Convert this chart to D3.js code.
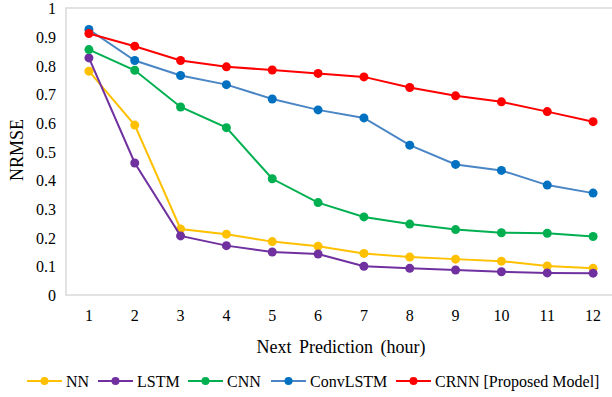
<!DOCTYPE html>
<html>
<head>
<meta charset="utf-8">
<script src="https://cdn.jsdelivr.net/npm/d3@7"></script>
<style>
  body { margin: 0; background: #fff; }
  svg text { font-family: "Liberation Serif", "Times New Roman", serif; fill: #000; }
</style>
</head>
<body>
<div id="chart"></div>
<script>
// hours ahead
const hours = [1, 2, 3, 4, 5, 6, 7, 8, 9, 10, 11, 12];
const yTicks = [0, 0.1, 0.2, 0.3, 0.4, 0.5, 0.6, 0.7, 0.8, 0.9, 1];

// NRMSE per model
const nn       = [0.78, 0.592, 0.23, 0.212, 0.186, 0.17, 0.145, 0.132, 0.125, 0.118, 0.101, 0.093];
const lstm     = [0.826, 0.46, 0.206, 0.172, 0.15, 0.143, 0.1, 0.093, 0.087, 0.081, 0.077, 0.076];
const cnn      = [0.855, 0.783, 0.655, 0.583, 0.405, 0.322, 0.272, 0.247, 0.228, 0.217, 0.215, 0.204];
const convlstm = [0.925, 0.817, 0.765, 0.733, 0.683, 0.645, 0.617, 0.522, 0.455, 0.434, 0.383, 0.355];
const crnn     = [0.911, 0.867, 0.817, 0.795, 0.784, 0.772, 0.76, 0.723, 0.694, 0.673, 0.639, 0.604];

const seriesNames = ["NN", "LSTM", "CNN", "ConvLSTM", "CRNN [Proposed Model]"];
const seriesColors = ["#ffc000", "#7030a0", "#00b050", "#0070c0", "#ff0000"];
const lineColors = ["#ffc000", "#7030a0", "#00b050", "#4a86c5", "#ff0000"];
const allSeries = [nn, lstm, cnn, convlstm, crnn];

const W = 612, H = 397;
const plot = {left: 66, right: 616, top: 8, bottom: 295};

const svg = d3.select("#chart").append("svg")
  .attr("width", W)
  .attr("height", H);

const x = d3.scaleBand().domain(hours).range([plot.left, plot.right]);
const y = d3.scaleLinear().domain([0, 1]).range([plot.bottom, plot.top]);

// plot area border
svg.append("rect")
  .attr("x", plot.left)
  .attr("y", y(1))
  .attr("width", plot.right - plot.left)
  .attr("height", y(0) - y(1))
  .attr("fill", "none")
  .attr("stroke", "#d9d9d9")
  .attr("stroke-width", 1.5);

// y axis labels
const yAxis = svg.append("g")
  .attr("transform", "translate(" + (plot.left - 10) + ",0)")
  .call(d3.axisLeft(y).tickValues(yTicks).tickSize(0).tickPadding(0).tickFormat(d3.format("")));
yAxis.select(".domain").remove();
yAxis.selectAll("text").attr("font-size", 16).attr("font-family", "Liberation Serif").attr("dy", "0.35em");

// x axis labels
const xAxis = svg.append("g")
  .attr("transform", "translate(0," + (plot.bottom + 15) + ")")
  .call(d3.axisBottom(x).tickSize(0).tickPadding(0));
xAxis.select(".domain").remove();
xAxis.selectAll("text").attr("font-size", 16).attr("font-family", "Liberation Serif");

// axis titles
svg.append("text")
  .attr("x", 341)
  .attr("y", 353)
  .attr("text-anchor", "middle")
  .attr("font-size", 18)
  .attr("word-spacing", 3)
  .text("Next Prediction (hour)");

svg.append("text")
  .attr("transform", "translate(23,150) rotate(-90)")
  .attr("text-anchor", "middle")
  .attr("font-size", 18)
  .text("NRMSE");

const cx = d => x(d) + x.bandwidth() / 2;
const line = d3.line()
  .x((v, i) => cx(hours[i]))
  .y(v => y(v));

allSeries.forEach((s, k) => {
  const g = svg.append("g");
  g.append("path")
    .datum(s)
    .attr("d", line)
    .attr("fill", "none")
    .attr("stroke", lineColors[k])
    .attr("stroke-width", 2);
  g.selectAll("circle")
    .data(s)
    .enter().append("circle")
      .attr("cx", (v, i) => cx(hours[i]))
      .attr("cy", v => y(v))
      .attr("r", 4.5)
      .attr("fill", seriesColors[k]);
});

// legend
const legendX = [27, 98, 188, 271, 396];
const legend = svg.append("g").attr("transform", "translate(0,381)");
seriesNames.forEach((name, k) => {
  const item = legend.append("g").attr("transform", "translate(" + legendX[k] + ",0)");
  item.append("line")
    .attr("x1", 0).attr("x2", 35)
    .attr("stroke", lineColors[k])
    .attr("stroke-width", 2);
  item.append("circle")
    .attr("cx", 17.5)
    .attr("r", 4)
    .attr("fill", seriesColors[k]);
  item.append("text")
    .attr("x", 39)
    .attr("dy", "0.35em")
    .attr("font-size", 16)
    .text(name);
});
</script>
</body>
</html>
